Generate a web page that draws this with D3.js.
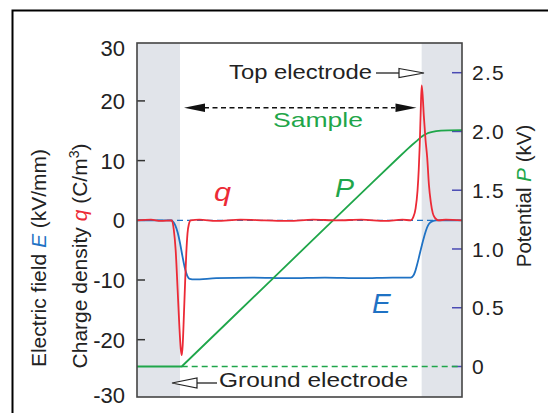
<!DOCTYPE html>
<html>
<head>
<meta charset="utf-8">
<script src="https://cdn.jsdelivr.net/npm/d3@7"></script>
<style>
html,body{margin:0;padding:0;background:#fff;}
svg{display:block;font-family:"Liberation Sans",Arial,Helvetica,sans-serif;}
</style>
</head>
<body>
<svg id="chart" width="548" height="413"></svg>
<script>
// ---- data ----
// x position in % of sample thickness (0 = ground electrode, 100 = top electrode)
const qPos = [-17.8,-12,-8,-3.4,-2.6,-1.8,-1.0,-0.3,0.3,0.7,1.1,1.6,2.1,2.6,3.1,3.7,4.4,8,15,25,35,45,55,65,75,85,92,95.5,96.5,97.5,98.3,98.8,99.2,99.6,100,100.4,100.9,101.6,102.3,103,103.8,104.6,105.5,107,110,116.7];
const qVal = [0,0.1,-0.1,0,-1.5,-5,-11.5,-17.5,-21.5,-22.6,-21,-16,-10.5,-5.5,-2.2,-0.6,0,0.1,-0.1,0.1,0,-0.1,0.1,0,0.1,-0.1,0.1,0,0.5,2,5,8.5,12.5,18,22.6,21,17.5,13.5,10.5,6,3,1.2,0.4,0,0.1,0];
const ePos = [-17.8,-10,-4,-3.0,-2.0,-1.0,0,1.0,2.0,3.0,4.0,6,15,30,45,60,75,88,95.5,96.5,97.3,98.0,98.7,99.4,100.2,101,101.8,102.6,103.5,104.5,106,110,116.7];
const eVal = [0,0,0,-0.2,-0.8,-2,-3.8,-6,-8,-9.3,-9.8,-9.9,-9.7,-9.6,-9.7,-9.6,-9.7,-9.6,-9.6,-9.3,-8.6,-7.6,-6.5,-5.3,-4,-2.8,-1.7,-0.9,-0.4,-0.15,0,0,0];
const pPos = [-17.8,0.7,20,40,60,80,90,94,96,98,99.5,101,102.5,104,106,108,111,116.7];
const pVal = [0,0,0.383,0.78,1.177,1.573,1.77,1.848,1.885,1.92,1.948,1.97,1.985,1.995,2.003,2.007,2.01,2.012];
const leftTicks = [30,20,10,0,-10,-20,-30];
const leftTickLabels = ["30","20","10","0","-10","-20","-30"];
const rightTicks = [0,0.5,1.0,1.5,2.0,2.5];
const rightTickLabels = ["0","0.5","1.0","1.5","2.0","2.5"];
const electrodeBands = [[-17.8,0],[100,116.7]];

// ---- layout ----
const L = 137, R = 462, T = 43, B = 397;
const svg = d3.select("#chart");
const x = d3.scaleLinear().domain([-17.8,116.7]).range([L,R]);
const yL = d3.scaleLinear().domain([-29.6,29.7]).range([B,T]);
const yR = d3.scaleLinear().domain([0,2.5]).range([366.5,72.7]);

const RED="#ec2a36", BLUE="#1f72c4", GREEN="#1fa64a", TXT="#222";

// outer frame
svg.append("rect").attr("x",12.5).attr("y",10.5).attr("width",700).attr("height",700)
  .attr("fill","none").attr("stroke","#000").attr("stroke-width",2);

// electrode bands
svg.selectAll("rect.band").data(electrodeBands).enter().append("rect")
  .attr("class","band").attr("x",d=>x(d[0])).attr("y",T)
  .attr("width",d=>x(d[1])-x(d[0])).attr("height",B-T).attr("fill","#e1e4ea");

// left ticks (inward)
svg.selectAll("line.lt").data(leftTicks.filter(v=>v<30&&v>-30)).enter().append("line")
  .attr("x1",L).attr("x2",L+8).attr("y1",d=>yL(d)).attr("y2",d=>yL(d))
  .attr("stroke","#333").attr("stroke-width",1.5);
// right ticks (inward)
svg.selectAll("line.rt").data(rightTicks).enter().append("line")
  .attr("x1",R-10).attr("x2",R).attr("y1",d=>yR(d)).attr("y2",d=>yR(d))
  .attr("stroke","#4a4ab4").attr("stroke-width",1.5);

// zero reference lines
svg.append("line").attr("x1",L).attr("x2",R).attr("y1",yL(0)).attr("y2",yL(0))
  .attr("stroke",BLUE).attr("stroke-width",1.3).attr("stroke-dasharray","6,4");
svg.append("line").attr("x1",x(0.7)).attr("x2",R).attr("y1",yR(0)).attr("y2",yR(0))
  .attr("stroke",GREEN).attr("stroke-width",1.5).attr("stroke-dasharray","6,4");

// curves
const lineL = d3.line().x(d=>x(d[0])).y(d=>yL(d[1])).curve(d3.curveMonotoneX);
const lineR = d3.line().x(d=>x(d[0])).y(d=>yR(d[1])).curve(d3.curveLinear);
svg.append("path").attr("d",lineL(d3.zip(ePos,eVal))).attr("fill","none").attr("stroke",BLUE).attr("stroke-width",1.8);
svg.append("path").attr("d",lineR(d3.zip(pPos,pVal))).attr("fill","none").attr("stroke",GREEN).attr("stroke-width",1.8).attr("stroke-linejoin","round");
svg.append("path").attr("d",lineL(d3.zip(qPos,qVal))).attr("fill","none").attr("stroke",RED).attr("stroke-width",1.8);

// plot frame
svg.append("rect").attr("x",L).attr("y",T).attr("width",R-L).attr("height",B-T)
  .attr("fill","none").attr("stroke","#444").attr("stroke-width",1.6);

// left tick labels
svg.selectAll("text.ll").data(leftTicks).enter().append("text")
  .attr("x",125).attr("y",d=>Math.max(48,Math.min(395,yL(d)))).attr("dy","0.36em")
  .attr("text-anchor","end").attr("font-size",22).attr("fill",TXT)
  .text((d,i)=>leftTickLabels[i]);
// right tick labels
svg.selectAll("text.rl").data(rightTicks).enter().append("text")
  .attr("x",472).attr("y",d=>yR(d)).attr("dy","0.36em")
  .attr("font-size",21).attr("letter-spacing",1.2).attr("fill",TXT)
  .text((d,i)=>rightTickLabels[i]);

// axis titles (rotated)
const t1 = svg.append("text").attr("transform","translate(46,258) rotate(-90)")
  .attr("text-anchor","middle").attr("font-size",21).attr("fill",TXT);
t1.append("tspan").text("Electric field ");
t1.append("tspan").attr("fill",BLUE).attr("font-style","italic").text("E");
t1.append("tspan").text(" (kV/mm)");

const t2 = svg.append("text").attr("transform","translate(87,256) rotate(-90)")
  .attr("text-anchor","middle").attr("font-size",21).attr("fill",TXT);
t2.append("tspan").text("Charge density ");
t2.append("tspan").attr("fill",RED).attr("font-style","italic").text("q");
t2.append("tspan").text(" (C/m");
t2.append("tspan").attr("font-size",14).attr("dy",-8).text("3");
t2.append("tspan").attr("dy",8).text(")");

const t3 = svg.append("text").attr("transform","translate(531,196) rotate(-90)")
  .attr("text-anchor","middle").attr("font-size",20.5).attr("fill",TXT);
t3.append("tspan").text("Potential ");
t3.append("tspan").attr("fill",GREEN).attr("font-style","italic").text("P");
t3.append("tspan").text(" (kV)");

// annotations
svg.append("text").attr("x",229).attr("y",79).attr("font-size",20).attr("fill",TXT)
  .attr("textLength",143).attr("lengthAdjust","spacingAndGlyphs").text("Top electrode");
svg.append("line").attr("x1",376).attr("x2",399).attr("y1",73).attr("y2",73).attr("stroke",TXT).attr("stroke-width",1.3);
svg.append("path").attr("d","M399,68.5 L424,73 L399,77.5 Z").attr("fill","#fff").attr("stroke",TXT).attr("stroke-width",1.2);

svg.append("line").attr("x1",204).attr("x2",395).attr("y1",107.7).attr("y2",107.7)
  .attr("stroke","#111").attr("stroke-width",1.5).attr("stroke-dasharray","5,3.5");
svg.append("path").attr("d","M184,107.7 L205,103.5 L205,111.9 Z").attr("fill","#111");
svg.append("path").attr("d","M416.5,107.7 L395.5,103.5 L395.5,111.9 Z").attr("fill","#111");
svg.append("text").attr("x",273).attr("y",126.7).attr("font-size",21).attr("fill",GREEN)
  .attr("textLength",90).attr("lengthAdjust","spacingAndGlyphs").text("Sample");

svg.append("path").attr("d","M172,383 L197,378 L197,388 Z").attr("fill","#fff").attr("stroke",TXT).attr("stroke-width",1.2);
svg.append("line").attr("x1",197).attr("x2",217).attr("y1",383).attr("y2",383).attr("stroke",TXT).attr("stroke-width",1.3);
svg.append("text").attr("x",219).attr("y",387).attr("font-size",20).attr("fill",TXT)
  .attr("textLength",189).attr("lengthAdjust","spacingAndGlyphs").text("Ground electrode");

svg.append("text").attr("x",214).attr("y",201).attr("font-size",25).attr("font-style","italic")
  .attr("fill",RED).attr("textLength",17).attr("lengthAdjust","spacingAndGlyphs").text("q");
svg.append("text").attr("x",335).attr("y",197).attr("font-size",25).attr("font-style","italic")
  .attr("fill",GREEN).attr("textLength",19).attr("lengthAdjust","spacingAndGlyphs").text("P");
svg.append("text").attr("x",372).attr("y",313).attr("font-size",28).attr("font-style","italic")
  .attr("fill",BLUE).text("E");
</script>
</body>
</html>
